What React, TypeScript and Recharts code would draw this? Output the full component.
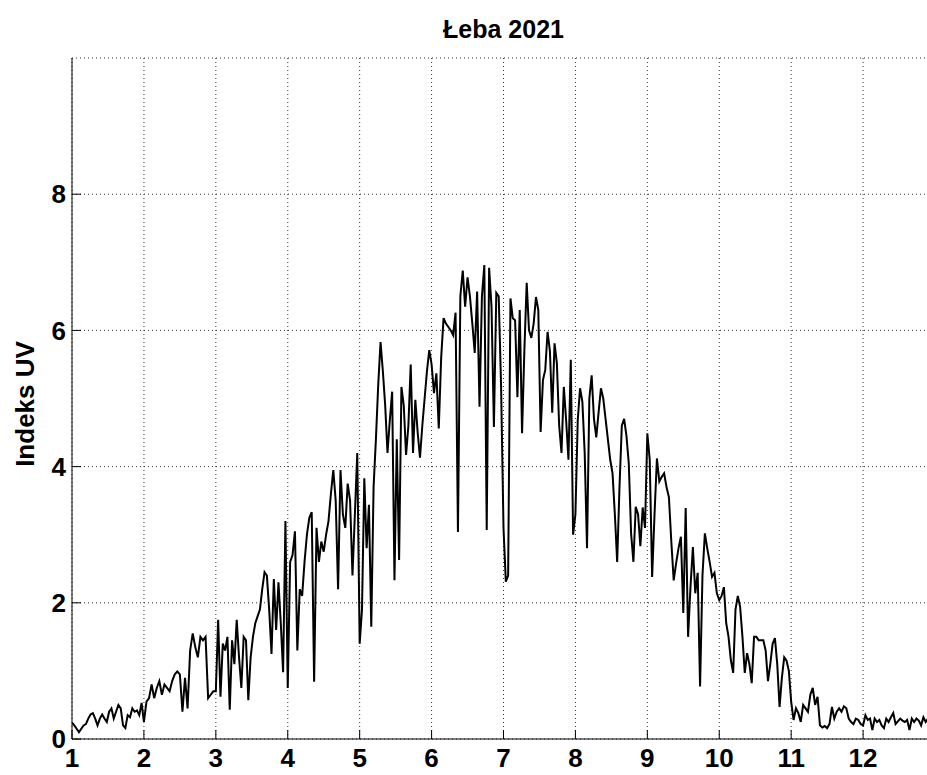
import React from 'react';
import { LineChart, Line, XAxis, YAxis, CartesianGrid } from 'recharts';

// Daily UV index, Łeba 2021 — one array per month
const jan = [0.24, 0.2, 0.15, 0.1, 0.15, 0.2, 0.22, 0.3, 0.36, 0.38, 0.3, 0.2, 0.3, 0.36, 0.3, 0.25, 0.4, 0.45, 0.3, 0.4, 0.5, 0.45, 0.2, 0.16, 0.35, 0.32, 0.45, 0.4, 0.42, 0.35, 0.53];
const feb = [0.25, 0.55, 0.6, 0.8, 0.6, 0.75, 0.85, 0.65, 0.8, 0.75, 0.7, 0.85, 0.95, 0.99, 0.95, 0.4, 0.9, 0.45, 1.3, 1.55, 1.35, 1.2, 1.5, 1.45, 1.5, 0.6, 0.65, 0.7];
const mar = [0.7, 1.75, 0.62, 1.4, 1.3, 1.5, 0.43, 1.45, 1.1, 1.75, 1.2, 0.75, 1.5, 1.45, 0.57, 1.2, 1.5, 1.7, 1.8, 1.9, 2.2, 2.45, 2.4, 1.9, 1.25, 2.35, 1.6, 2.3, 1.7, 0.98, 3.2];
const apr = [0.75, 2.6, 2.7, 3.05, 1.3, 2.2, 2.1, 2.6, 3.0, 3.25, 3.33, 0.84, 3.1, 2.6, 2.9, 2.75, 3.0, 3.2, 3.6, 3.95, 3.5, 2.2, 3.95, 3.3, 3.1, 3.75, 3.5, 2.4, 3.3, 4.2];
const may = [1.4, 1.9, 3.83, 2.8, 3.44, 1.65, 3.7, 4.4, 5.2, 5.83, 5.4, 4.9, 4.2, 4.68, 5.1, 2.33, 4.4, 2.63, 5.17, 4.9, 4.17, 4.6, 5.5, 4.2, 4.98, 4.5, 4.13, 4.6, 5.0, 5.4, 5.71];
const jun = [5.5, 5.08, 5.37, 4.56, 5.6, 6.18, 6.1, 6.05, 6.0, 5.93, 6.26, 3.04, 6.5, 6.88, 6.35, 6.78, 6.5, 6.1, 5.67, 6.57, 4.88, 6.5, 6.96, 3.07, 6.92, 6.35, 4.58, 6.55, 6.5, 5.17];
const jul = [3.1, 2.31, 2.4, 6.47, 6.18, 6.15, 5.02, 6.3, 4.49, 5.71, 6.7, 6.0, 5.89, 6.1, 6.49, 6.3, 4.51, 5.27, 5.42, 5.98, 5.7, 4.79, 5.81, 5.52, 4.6, 4.2, 5.17, 4.68, 4.1, 5.57, 3.0];
const aug = [3.3, 4.68, 5.15, 4.95, 4.2, 2.8, 5.0, 5.34, 4.7, 4.43, 4.8, 5.15, 5.0, 4.7, 4.4, 4.1, 3.9, 3.3, 2.6, 3.7, 4.6, 4.7, 4.45, 4.05, 3.02, 2.6, 3.41, 3.3, 2.83, 3.4, 3.1];
const sep = [4.49, 4.1, 2.38, 3.3, 4.12, 3.78, 3.85, 3.9, 3.7, 3.55, 2.9, 2.33, 2.58, 2.8, 2.97, 1.85, 3.39, 1.5, 2.23, 2.82, 2.14, 2.44, 0.77, 2.4, 3.02, 2.8, 2.6, 2.38, 2.44, 2.14];
const oct = [2.04, 2.1, 2.23, 1.7, 1.5, 1.16, 0.97, 1.9, 2.1, 1.94, 1.5, 0.97, 1.26, 1.1, 0.82, 1.5, 1.5, 1.45, 1.45, 1.45, 1.3, 0.85, 1.1, 1.4, 1.48, 1.1, 0.47, 0.9, 1.2, 1.15, 1.0];
const nov = [0.55, 0.28, 0.45, 0.38, 0.25, 0.5, 0.45, 0.4, 0.65, 0.75, 0.5, 0.62, 0.2, 0.17, 0.19, 0.16, 0.22, 0.47, 0.3, 0.4, 0.45, 0.4, 0.48, 0.45, 0.3, 0.25, 0.22, 0.3, 0.28, 0.22];
const dec = [0.2, 0.35, 0.28, 0.3, 0.13, 0.3, 0.25, 0.28, 0.2, 0.16, 0.3, 0.25, 0.32, 0.38, 0.22, 0.26, 0.3, 0.27, 0.25, 0.28, 0.13, 0.3, 0.25, 0.3, 0.27, 0.2, 0.32, 0.25, 0.3, 0.22, 0.28];

const months = [jan, feb, mar, apr, may, jun, jul, aug, sep, oct, nov, dec];
const xTicks = [1, 2, 3, 4, 5, 6, 7, 8, 9, 10, 11, 12];
const yTicks = [0, 2, 4, 6, 8];
const title = 'Łeba 2021';
const yLabel = 'Indeks UV';

// x = month + fraction of month (day index within the month)
const data = months.flatMap((vals, m) =>
  vals.map((v, d) => ({ x: m + 1 + d / vals.length, uv: v }))
);

const FONT = '"Liberation Sans", Arial, Helvetica, sans-serif';
const TICK_LEN = 9;
const TICK_FONT = 26;
const X_MARGIN = 10;

const BottomTick = (props: any) => {
  const { x, y, payload } = props;
  return (
    <g>
      <line x1={x} x2={x} y1={y - X_MARGIN} y2={y - X_MARGIN - TICK_LEN} stroke="#000" strokeWidth={1} />
      <text x={x} y={y} dy="0.71em" textAnchor="middle" fontFamily={FONT} fontWeight="bold" fontSize={TICK_FONT} fill="#000">
        {payload.value}
      </text>
    </g>
  );
};

const TopTick = (props: any) => {
  const { x, y } = props;
  return <line x1={x} x2={x} y1={y} y2={y + TICK_LEN} stroke="#000" strokeWidth={1} />;
};

const LeftTick = (props: any) => {
  const { x, y, payload } = props;
  return (
    <g>
      <line x1={x + 6} x2={x + 6 + TICK_LEN} y1={y} y2={y} stroke="#000" strokeWidth={1} />
      <text x={x} y={y} dy="0.355em" textAnchor="end" fontFamily={FONT} fontWeight="bold" fontSize={TICK_FONT} fill="#000">
        {payload.value}
      </text>
    </g>
  );
};

export default function App() {
  return (
    <div style={{ position: 'absolute', left: 0, top: 0, width: 927, height: 775, overflow: 'hidden', background: '#fff' }}>
      <div
        style={{
          position: 'absolute', left: 72, width: 863, top: 17, textAlign: 'center',
          fontFamily: FONT, fontWeight: 'bold', fontSize: 25, lineHeight: 1, color: '#000',
        }}
      >
        {title}
      </div>
      <div
        style={{
          position: 'absolute', left: 25, top: 404, transform: 'translate(-50%, -50%) rotate(-90deg)',
          fontFamily: FONT, fontWeight: 'bold', fontSize: 26, lineHeight: 1, whiteSpace: 'nowrap', color: '#000',
        }}
      >
        {yLabel}
      </div>
      <div style={{ position: 'absolute', left: 0, top: 0 }}>
        <LineChart width={940} height={775} data={data} margin={{ top: 58, right: 5, bottom: 0, left: 0 }}>
          <CartesianGrid xAxisId="bottom" stroke="#333" strokeDasharray="1 3" ticks={xTicks} />
          <XAxis
            xAxisId="bottom"
            dataKey="x"
            type="number"
            domain={[1, 13]}
            ticks={xTicks}
            allowDataOverflow
            height={36}
            tickSize={0}
            tickMargin={X_MARGIN}
            tickLine={false}
            axisLine={{ stroke: '#000', strokeWidth: 1 }}
            tick={<BottomTick />}
            interval={0}
          />
          <XAxis
            xAxisId="top"
            orientation="top"
            dataKey="x"
            type="number"
            domain={[1, 13]}
            ticks={xTicks}
            allowDataOverflow
            height={0}
            tickSize={0}
            tickMargin={0}
            tickLine={false}
            axisLine={{ stroke: '#000', strokeWidth: 1 }}
            tick={<TopTick />}
            interval={0}
          />
          <YAxis
            type="number"
            domain={[0, 10]}
            ticks={yTicks}
            allowDataOverflow
            width={72}
            tickSize={0}
            tickMargin={6}
            tickLine={false}
            axisLine={{ stroke: '#000', strokeWidth: 1 }}
            tick={<LeftTick />}
            interval={0}
          />
          <Line
            xAxisId="bottom"
            type="linear"
            dataKey="uv"
            stroke="#000"
            strokeWidth={2}
            dot={false}
            isAnimationActive={false}
          />
        </LineChart>
      </div>
    </div>
  );
}
